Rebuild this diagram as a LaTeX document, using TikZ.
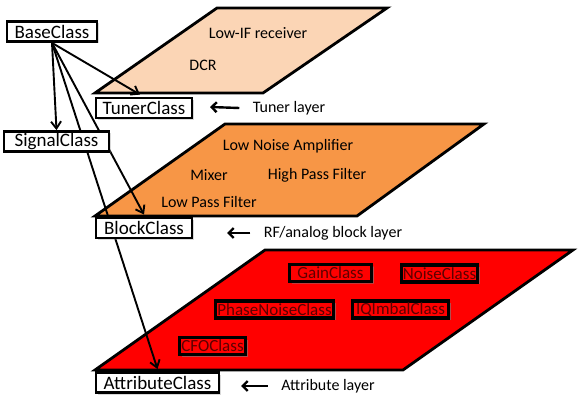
\documentclass[tikz,border=0pt]{standalone}
\usepackage{fontspec}
\setmainfont{Carlito}
\usetikzlibrary{arrows.meta,shadows,backgrounds}
\definecolor{lyrpeach}{HTML}{FBD5B5}
\definecolor{lyrorange}{HTML}{F79646}
\definecolor{lyrred}{HTML}{FF0000}
\definecolor{attrtext}{HTML}{5C0000}
\tikzset{
  cls/.style={draw=black,line width=2.8pt,fill=white,inner sep=0pt,minimum height=20pt,font=\fontsize{19}{21}\selectfont,drop shadow={shadow xshift=2pt,shadow yshift=-2pt,opacity=.3}},
  attrbox/.style={cls,fill=lyrred,text=attrtext,font=\fontsize{17}{19}\selectfont,line width=3.2pt,minimum height=17pt,drop shadow={shadow xshift=2.5pt,shadow yshift=-2.5pt,opacity=.45}},
  plane/.style={draw=black,line width=2.8pt,line join=miter},
  lbl/.style={font=\fontsize{16}{18}\selectfont},
  inh/.style={-{Straight Barb[length=7pt,width=10pt]},line width=1.9pt},
  ptr/.style={-{Straight Barb[length=5pt,width=10pt]},line width=2.4pt},
}

\begin{document}
\begin{tikzpicture}[x=1pt,y=-1pt]
  \useasboundingbox (0,0) rectangle (581,403);
  % class boxes
  \node[cls,minimum width=90pt] (base) at (52,31.5) {BaseClass};
  \node[cls,minimum width=96pt] (tuner) at (144,108) {TunerClass};
  \node[cls,minimum width=105pt] (signal) at (56.5,141.5) {SignalClass};
  \node[cls,minimum width=96pt] (block) at (144,228) {BlockClass};
  \node[cls,minimum width=123pt] (attr) at (157.5,382.5) {AttributeClass};
  % attribute classes
  \node[attrbox,minimum width=82pt] (gain) at (330.5,273) {GainClass};
  \node[attrbox,minimum width=76pt] (noise) at (439.5,273.5) {NoiseClass};
  \node[attrbox,minimum width=118pt] (phase) at (274.5,309.5) {PhaseNoiseClass};
  \node[attrbox,minimum width=96pt] (iq) at (400.5,309.5) {IQImbalClass};
  \node[attrbox,minimum width=66pt] (cfo) at (212.5,346) {CFOClass};
  % layer labels
  \node[lbl] (tunerlyr) at (289,108) {Tuner layer};
  \node[lbl] (blocklyr) at (333,233) {RF/analog block layer};
  \node[lbl] (attrlyr) at (328,386) {Attribute layer};
  \coordinate (tunerptr) at (210,107);
  \coordinate (blockptr) at (227,233);
  \coordinate (attrptr) at (241,386);
  \draw[ptr] ([xshift=-10pt]tunerlyr.west) -- (tunerptr);
  \draw[ptr] ([xshift=-10pt]blocklyr.west) -- (blockptr);
  \draw[ptr] ([xshift=-10pt]attrlyr.west) -- (attrptr);
  \begin{scope}[on background layer]
    % the three planes
    \draw[plane,fill=lyrpeach] (95,93) -- (217,8) -- (387,8) -- (263,93) -- cycle;
    \draw[plane,fill=lyrorange] (95,216) -- (225,124) -- (484,124) -- (357,216) -- cycle;
    \draw[plane,fill=lyrred] (95,370) -- (265,250) -- (573,250) -- (403,370) -- cycle;
    \node[lbl] (lowif) at (258,33) {Low-IF receiver};
    \node[lbl] (dcr) at (203,65) {DCR};
    \node[lbl] (lna) at (288,146) {Low Noise Amplifier};
    \node[lbl] (mixer) at (209,175) {Mixer};
    \node[lbl] (hpf) at (317,175) {High Pass Filter};
    \node[lbl] (lpf) at (209,202) {Low Pass Filter};
    % inheritance
    \draw[inh] (base.south) -- (signal.north);
    \draw[inh] (base.south) -- ([xshift=-4pt,yshift=2pt]tuner.north);
    \draw[inh] (base.south) -- ([yshift=2pt]block.north);
    \draw[inh] (base.south) -- ([yshift=2pt]attr.north);
  \end{scope}
\end{tikzpicture}
\end{document}
